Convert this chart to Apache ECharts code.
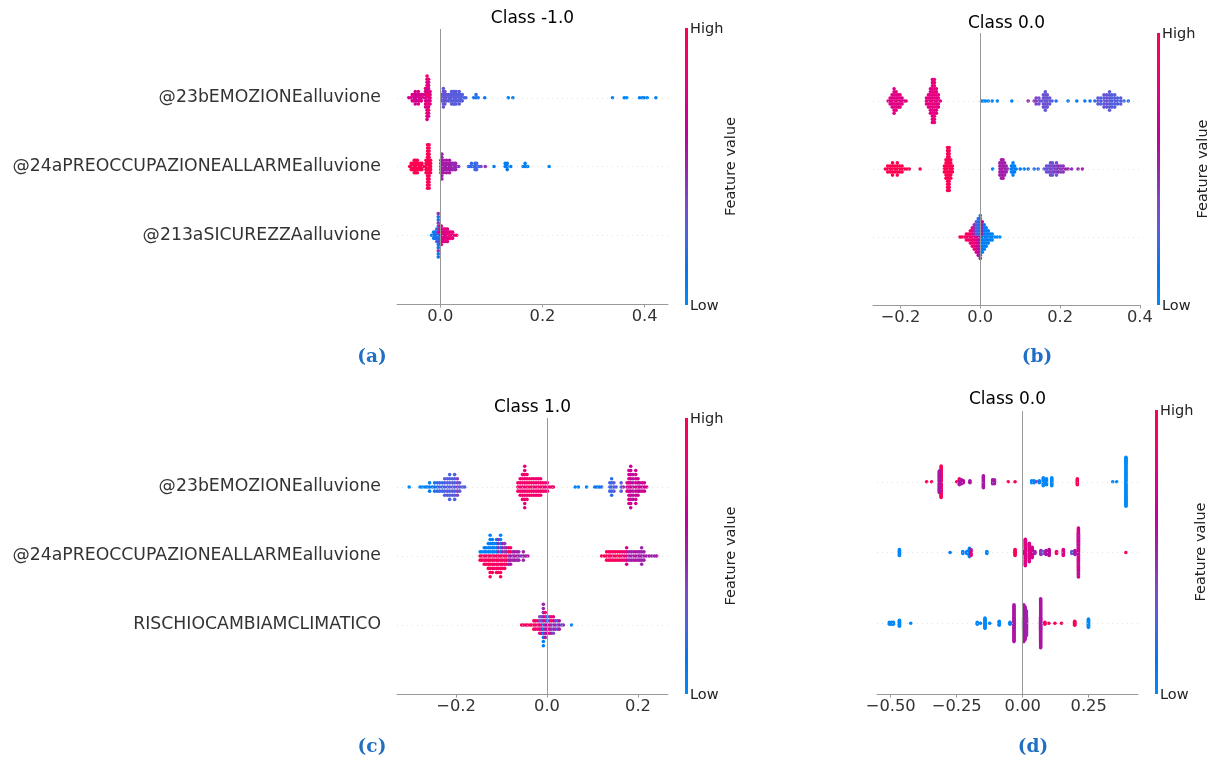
<!DOCTYPE html>
<html><head><meta charset="utf-8">
<script src="https://cdn.jsdelivr.net/npm/echarts@6/dist/echarts.min.js"></script>
<style>html,body{margin:0;padding:0;background:#fff}#c{width:1215px;height:760px}</style>
</head><body><div id="c"></div>
<script>
// ---------- DATA ----------
const featuresA = ['@23bEMOZIONEalluvione', '@24aPREOCCUPAZIONEALLARMEalluvione', '@213aSICUREZZAalluvione'];
const featuresB = ['@23bEMOZIONEalluvione', '@24aPREOCCUPAZIONEALLARMEalluvione', '@213aSICUREZZAalluvione'];
const featuresC = ['@23bEMOZIONEalluvione', '@24aPREOCCUPAZIONEALLARMEalluvione', 'RISCHIOCAMBIAMCLIMATICO'];
const featuresD = ['', '', ''];
const titles = ['Class -1.0', 'Class 0.0', 'Class 1.0', 'Class 0.0'];
const captions = ['(a)', '(b)', '(c)', '(d)'];
const aTicks = [0, 0.2, 0.4];
const bTicks = [-0.2, 0, 0.2, 0.4];
const cTicks = [-0.2, 0, 0.2];
const dTicks = [-0.5, -0.25, 0, 0.25];

// each entry: [shap value, number of samples, feature value (0 low .. 1 high)]
const aRow1 = [[-0.062,1,0.7],[-0.058,1,0.75],[-0.055,3,0.7],[-0.052,3,0.75],[-0.049,5,0.7],[-0.046,3,0.65],[-0.043,5,0.75],[-0.040,3,0.7],[-0.037,3,0.75],[-0.034,2,0.7],
  [-0.029,7,0.72],[-0.026,10,0.75],[-0.026,5,0.88],[-0.023,9,0.72],[-0.023,4,0.88],[-0.020,5,0.78],
  [0.003,3,0.35],[0.006,7,0.3],[0.009,5,0.35],[0.012,3,0.3],[0.016,3,0.28],[0.019,3,0.3],[0.022,5,0.28],[0.025,5,0.3],[0.028,5,0.25],[0.031,5,0.3],[0.034,3,0.28],[0.037,5,0.3],[0.040,3,0.25],[0.043,3,0.28],[0.047,1,0.25],[0.050,1,0.25],
  [0.065,1,0.15],[0.070,2,0.2],[0.074,1,0.15],[0.087,1,0.15],[0.133,1,0.1],[0.142,1,0.1],
  [0.337,1,0.05],[0.360,1,0.05],[0.365,1,0.05],[0.390,1,0.05],[0.395,1,0.05],[0.399,1,0.05],[0.405,1,0.05],[0.422,1,0.05]];
const aRow2 = [[-0.060,1,1],[-0.057,3,1],[-0.054,3,1],[-0.051,5,1],[-0.048,5,1],[-0.045,5,1],[-0.042,3,1],[-0.039,3,1],[-0.036,3,1],[-0.033,1,1],
  [-0.028,5,1],[-0.025,15,1],[-0.022,15,0.97],[-0.019,5,1],
  [0.001,5,0.55],[0.003,9,0.5],[0.006,5,0.55],[0.009,3,0.5],[0.012,5,0.55],[0.015,3,0.5],[0.018,5,0.55],[0.021,3,0.5],[0.024,3,0.5],[0.027,3,0.45],[0.030,3,0.5],[0.033,1,0.45],[0.036,1,0.45],
  [0.055,1,0.2],[0.058,1,0.2],[0.061,2,0.2],[0.064,1,0.25],[0.068,3,0.2],[0.071,3,0.25],[0.075,1,0.2],[0.080,1,0.35],[0.088,1,0.45],
  [0.105,1,0.1],[0.127,2,0.1],[0.131,3,0.1],[0.138,1,0.1],[0.162,1,0.1],[0.166,2,0.05],[0.171,1,0.1],[0.213,1,0.05]];
const aRow3 = [[-0.017,1,0.05],[-0.013,3,0.1],[-0.010,3,0.15],[-0.007,5,0.2],[-0.004,10,0.15],[-0.004,5,0.45],[-0.001,4,0.2],[-0.001,3,0.8],[0.002,7,0.8],[0.005,5,0.75],[0.008,5,0.7],[0.011,5,0.8],[0.014,5,0.75],[0.017,3,0.8],[0.020,3,0.85],[0.024,3,0.75],[0.028,1,0.8],[0.032,1,0.95]];

const bRow1 = [[-0.231,1,0.72],[-0.226,3,0.78],[-0.221,5,0.72],[-0.216,9,0.75],[-0.211,7,0.8],[-0.206,5,0.72],[-0.201,5,0.8],[-0.196,3,0.72],[-0.191,1,0.75],[-0.186,1,0.8],
  [-0.135,3,0.75],[-0.130,5,0.8],[-0.125,9,0.75],[-0.120,10,0.8],[-0.120,5,0.7],[-0.115,10,0.8],[-0.115,5,0.9],[-0.110,9,0.75],[-0.105,5,0.8],[-0.100,1,0.75],
  [0.003,1,0.02],[0.008,1,0.02],[0.013,1,0.02],[0.020,1,0.02],[0.030,1,0.05],[0.043,1,0.05],[0.079,1,0.05],
  [0.120,1,0.5],[0.135,1,0.45],[0.140,3,0.4],[0.147,3,0.35],[0.152,1,0.3],[0.158,5,0.35],[0.163,7,0.3],[0.168,5,0.35],[0.174,3,0.3],[0.180,1,0.25],[0.190,1,0.2],
  [0.220,1,0.1],[0.242,1,0.1],[0.262,1,0.15],[0.275,1,0.15],
  [0.287,1,0.2],[0.295,3,0.3],[0.302,3,0.25],[0.310,5,0.3],[0.317,5,0.35],[0.324,7,0.3],[0.330,5,0.25],[0.337,5,0.3],[0.344,3,0.25],[0.352,3,0.3],[0.360,1,0.2],[0.371,1,0.2]];
const bRow2 = [[-0.238,1,1],[-0.232,3,1],[-0.226,3,1],[-0.220,5,1],[-0.214,3,1],[-0.208,5,1],[-0.202,3,1],[-0.196,3,1],[-0.190,1,1],[-0.184,1,1],[-0.178,1,1],[-0.151,1,1],
  [-0.090,3,1],[-0.086,7,1],[-0.082,15,1],[-0.078,15,0.97],[-0.074,7,1],[-0.070,3,1],
  [0.031,1,0.05],
  [0.049,5,0.55],[0.053,7,0.5],[0.057,7,0.55],[0.061,5,0.5],[0.065,3,0.5],[0.069,1,0.45],
  [0.078,3,0.1],[0.082,5,0.05],[0.086,3,0.1],[0.090,1,0.1],
  [0.100,1,0.1],[0.110,1,0.1],[0.120,1,0.15],[0.135,1,0.2],[0.145,1,0.2],
  [0.160,1,0.3],[0.166,3,0.35],[0.171,3,0.3],[0.176,5,0.4],[0.181,5,0.3],[0.186,3,0.45],[0.191,5,0.35],[0.196,3,0.5],[0.202,3,0.4],[0.208,3,0.45],[0.214,1,0.5],[0.220,1,0.5],[0.229,1,0.45],
  [0.245,1,0.5],[0.256,1,0.5]];
const bRow3 = [[-0.051,1,1],[-0.046,1,1],[-0.040,1,0.95],[-0.035,3,0.9],[-0.030,3,0.95],[-0.025,5,0.85],[-0.020,7,0.8],[-0.015,5,0.85],[-0.015,4,0.5],[-0.010,6,0.75],[-0.010,5,0.3],[-0.005,7,0.6],[-0.005,6,0.2],[0.000,8,0.5],[0.000,7,0.15],[0.005,6,0.1],[0.005,5,0.6],[0.010,9,0.1],[0.015,7,0.05],[0.020,5,0.1],[0.025,3,0.05],[0.030,3,0.05],[0.036,1,0.0],[0.042,1,0.0],[0.049,1,0.0]];

const cRow1 = [[-0.303,1,0.0],
  [-0.279,1,0.0],[-0.274,1,0.0],[-0.268,1,0.05],[-0.263,1,0.05],[-0.258,3,0.1],[-0.252,1,0.1],[-0.247,3,0.15],[-0.241,3,0.2],[-0.236,3,0.25],[-0.230,3,0.2],[-0.225,5,0.25],[-0.219,5,0.3],[-0.214,7,0.25],[-0.208,5,0.3],[-0.203,7,0.25],[-0.197,5,0.4],[-0.192,3,0.3],[-0.186,1,0.25],[-0.181,1,0.25],
  [-0.064,3,0.9],[-0.059,5,0.85],[-0.054,7,0.9],[-0.049,11,0.8],[-0.044,7,0.9],[-0.039,5,0.95],[-0.034,5,0.85],[-0.029,5,0.9],[-0.024,5,0.8],[-0.019,5,0.9],[-0.014,5,0.85],[-0.009,3,0.95],[-0.004,3,0.85],[0.001,3,0.8],[0.006,1,0.9],[0.011,1,0.85],[0.014,1,0.9],
  [0.062,1,0.05],[0.069,1,0.05],[0.087,1,0.1],[0.105,1,0.1],[0.110,1,0.15],[0.115,1,0.1],[0.120,1,0.2],
  [0.138,3,0.25],[0.142,5,0.2],[0.147,3,0.3],[0.152,1,0.25],[0.163,3,0.3],[0.168,1,0.45],
  [0.176,3,0.7],[0.180,9,0.72],[0.184,11,0.65],[0.189,7,0.55],[0.195,9,0.72],[0.200,5,0.65],[0.204,3,0.6],[0.209,3,0.72],[0.214,3,0.65],[0.219,1,0.7]];
const cRow2 = [[-0.147,2,1],[-0.147,1,0.05],[-0.143,2,0.9],[-0.143,1,0.05],[-0.138,3,1],[-0.138,2,0.05],[-0.134,3,0.85],[-0.134,2,0.1],
  [-0.129,4,1],[-0.129,3,0.05],[-0.125,6,0.95],[-0.125,5,0.05],[-0.120,5,1],[-0.120,4,0.1],[-0.116,4,0.85],[-0.116,3,0.05],
  [-0.111,5,1],[-0.111,4,0.05],[-0.107,5,0.9],[-0.107,4,0.5],[-0.102,6,1],[-0.102,5,0.05],[-0.098,4,0.85],[-0.098,3,0.5],
  [-0.093,4,1],[-0.093,3,0.45],[-0.089,3,0.9],[-0.089,2,0.5],[-0.084,3,0.5],[-0.084,2,1],[-0.080,3,0.55],[-0.080,2,0.9],
  [-0.075,3,0.5],[-0.071,3,0.55],[-0.066,3,0.5],[-0.062,3,0.5],[-0.057,1,0.45],[-0.052,3,0.5],[-0.047,1,0.5],[-0.042,1,0.55],
  [0.120,1,1],[0.126,1,0.9],[0.131,3,1],[0.136,3,0.9],[0.140,3,1],[0.145,3,0.85],[0.150,3,1],[0.155,3,0.9],[0.160,3,1],[0.165,3,0.8],[0.170,3,0.9],[0.175,5,0.7],
  [0.180,3,0.5],[0.185,3,0.55],[0.190,3,0.5],[0.195,3,0.6],[0.200,3,0.5],[0.204,3,0.55],[0.208,5,0.5],[0.213,3,0.55],[0.218,1,0.5],[0.224,1,0.55],[0.230,1,0.5],[0.236,1,0.5],[0.241,1,0.55]];
const cRow3 = [[-0.056,1,1],[-0.052,1,0.9],[-0.047,1,1],[-0.043,1,0.85],[-0.038,1,1],[-0.034,1,0.9],[-0.029,3,1],[-0.025,3,0.85],[-0.020,3,0.9],[-0.016,3,0.75],[-0.016,2,0.4],[-0.012,3,0.8],[-0.012,2,0.3],
  [-0.008,6,0.1],[-0.008,5,0.5],[-0.004,4,0.55],[-0.004,3,0.85],[0.000,3,0.6],[0.000,2,0.2],[0.005,3,0.8],[0.005,2,0.3],[0.009,3,0.5],[0.009,2,0.9],[0.014,3,0.4],[0.014,2,0.8],
  [0.018,3,0.5],[0.023,3,0.3],[0.027,3,0.55],[0.032,1,0.3],[0.036,1,0.45],[0.054,1,0.0]];

const dRow1 = [[-0.364,1,1],[-0.345,1,0.95],
  [-0.309,33,0.97],[-0.316,23,0.55],
  [-0.250,1,0.95],[-0.240,5,0.55],[-0.240,2,0.95],[-0.232,5,0.55],[-0.225,3,0.6],[-0.200,3,0.55],
  [-0.149,13,0.55],[-0.114,5,0.55],[-0.107,5,0.5],
  [-0.055,1,0.95],[-0.029,1,0.95],
  [0.034,3,0.02],[0.043,3,0.05],[0.053,1,0.4],[0.063,3,0.05],[0.078,9,0.02],[0.090,7,0.05],[0.110,9,0.02],
  [0.207,7,0.97],[0.341,1,0.02],[0.356,1,0.02],[0.391,51,0.0]];
const dRow2 = [[-0.467,7,0.02],[-0.275,1,0.05],
  [-0.227,3,0.05],[-0.212,3,0.05],[-0.202,9,0.05],[-0.196,5,0.8],[-0.196,2,0.5],[-0.136,3,0.05],
  [-0.029,7,0.95],
  [0.004,3,0.5],[0.010,27,0.75],[0.025,19,0.75],[0.036,11,0.7],
  [0.046,3,0.5],[0.069,5,0.5],[0.075,3,0.3],[0.088,5,0.55],[0.100,7,0.6],
  [0.128,3,0.9],[0.154,7,0.75],[0.186,3,0.3],[0.198,5,0.55],
  [0.211,40,0.72],[0.211,9,0.45],[0.391,1,0.95]];
const dRow3 = [[-0.505,3,0.02],[-0.497,3,0.02],[-0.490,3,0.02],[-0.467,7,0.02],[-0.424,1,0.02],
  [-0.172,3,0.02],[-0.160,1,0.05],[-0.143,11,0.02],[-0.125,1,0.05],[-0.089,5,0.02],
  [-0.048,3,0.05],[-0.033,37,0.55],
  [0.004,36,0.55],[0.004,1,1],[0.009,33,0.55],[0.014,25,0.5],
  [0.068,49,0.55],
  [0.084,3,0.95],[0.099,1,0.95],[0.122,1,0.95],[0.147,1,0.95],[0.197,5,0.97],
  [0.249,9,0.02]];

// SHAP red_blue colour map
const cmap = ['#008bfb','#0078f3','#4b63e3','#7d49cb','#9b24ad','#c2009c','#e00086','#f5006c','#ff0051'];

// ---------- LAYOUT ----------
const FONT = 'DejaVu Sans';
const panels = [
  {rows:[aRow1,aRow2,aRow3], feats:featuresA, ticks:aTicks, dec:1, showY:true,
   grid:{left:397, top:29, width:271, height:275}, min:-0.0848, max:0.4457,
   bar:{x:685, top:28, bottom:305}, fvx:731, cap:[372,357], title:[532.5,19]},
  {rows:[bRow1,bRow2,bRow3], feats:featuresB, ticks:bTicks, dec:1, showY:false,
   grid:{left:873, top:33, width:267, height:272}, min:-0.2689, max:0.4003,
   bar:{x:1157, top:33, bottom:305}, fvx:1203, cap:[1037,357], title:[1006.5,24]},
  {rows:[cRow1,cRow2,cRow3], feats:featuresC, ticks:cTicks, dec:1, showY:true,
   grid:{left:397, top:418, width:271, height:276}, min:-0.3297, max:0.2659,
   bar:{x:685, top:418, bottom:694}, fvx:731, cap:[372,747], title:[532.5,408]},
  {rows:[dRow1,dRow2,dRow3], feats:featuresD, ticks:dTicks, dec:2, showY:false,
   grid:{left:877, top:411, width:261, height:283}, min:-0.552, max:0.4367,
   bar:{x:1155, top:410, bottom:694}, fvx:1201, cap:[1033,747], title:[1007.5,400]}
];

// beeswarm stacking like shap.summary_plot (row_height 0.4)
function swarm(row, pos) {
  const stacks = new Map();
  row.forEach(([x, n, fv]) => {
    if (!stacks.has(x)) stacks.set(x, []);
    for (let j = 0; j < n; j++) stacks.get(x).push({fv: fv, key: (j + 0.5) / n});
  });
  let maxL = 0;
  const pts = [];
  stacks.forEach((arr, x) => {
    arr.sort((p, q) => p.key - q.key);
    arr.forEach((p, layer) => {
      const off = Math.ceil(layer / 2) * ((layer % 2) * 2 - 1);
      if (off > maxL) maxL = off;
      pts.push([x, off, p.fv]);
    });
  });
  const s = 0.9 * 0.4 / (maxL + 1);
  return pts.map(([x, off, fv]) => [x, pos + off * s, fv]);
}

function fmt(v, dec) {
  const t = Math.abs(v).toFixed(dec);
  return (v < -1e-9 ? '\u2212' : '') + t;
}

const grids = [], xAxes = [], yAxes = [], series = [], graphics = [];
panels.forEach((p, i) => {
  grids.push(Object.assign({containLabel:false}, p.grid));
  xAxes.push({
    type:'value', gridIndex:i, min:p.min, max:p.max, position:'bottom',
    axisLine:{show:true, onZero:false, lineStyle:{color:'#999', width:1}},
    axisTick:{show:true, length:3.5, lineStyle:{color:'#999', width:1}, customValues:p.ticks},
    axisLabel:{customValues:p.ticks, formatter:(v)=>fmt(v, p.dec), fontSize:16.3, color:'#333', margin:5, fontFamily:FONT},
    splitLine:{show:false}
  });
  yAxes.push({
    type:'value', gridIndex:i, min:-1, max:3, interval:1,
    axisLine:{show:false, onZero:false}, axisTick:{show:false}, splitLine:{show:false},
    axisLabel:{show:p.showY, margin:16, fontSize:17.3, color:'#333', fontFamily:FONT,
      formatter:(v)=> (v>=0 && v<=2) ? p.feats[2 - v] : ''}
  });
});
// reference lines (behind points)
panels.forEach((p, i) => {
  const dot = {color:'#cccccc', width:0.6, type:[1,4]};
  series.push({
    type:'scatter', xAxisIndex:i, yAxisIndex:i, data:[], z:1, silent:true,
    markLine:{symbol:['none','none'], silent:true, animation:false, label:{show:false},
      data:[
        {yAxis:0, lineStyle:dot}, {yAxis:1, lineStyle:dot}, {yAxis:2, lineStyle:dot},
        {xAxis:0, lineStyle:{color:'#999999', width:1, type:'solid'}}
      ]}
  });
});
panels.forEach((p, i) => {
  let data = [];
  p.rows.forEach((r, k) => { data = data.concat(swarm(r, 2 - k)); });
  series.push({
    type:'scatter', xAxisIndex:i, yAxisIndex:i, data:data, z:3,
    symbol:'circle', symbolSize:3.6, itemStyle:{opacity:1}, silent:true, animation:false
  });
});

panels.forEach((p, i) => {
  const b = p.bar;
  graphics.push({type:'rect', shape:{x:b.x, y:b.top, width:3, height:b.bottom - b.top},
    style:{fill:new echarts.graphic.LinearGradient(0,0,0,1, cmap.slice().reverse().map((c,k)=>({offset:k/(cmap.length-1), color:c})))}});
  graphics.push({type:'text', x:b.x + 5, y:b.top + 1, style:{text:'High', fontSize:14.5, fontFamily:FONT, fill:'#222', align:'left', verticalAlign:'middle'}});
  graphics.push({type:'text', x:b.x + 5, y:b.bottom + 1, style:{text:'Low', fontSize:14.5, fontFamily:FONT, fill:'#222', align:'left', verticalAlign:'middle'}});
  graphics.push({type:'text', x:p.fvx, y:(b.top + b.bottom) / 2, rotation:Math.PI/2,
    style:{text:'Feature value', fontSize:14.5, fontFamily:FONT, fill:'#222', align:'center', verticalAlign:'middle'}});
  graphics.push({type:'text', x:p.title[0], y:p.title[1], style:{text:titles[i], fontSize:17, fontFamily:FONT, fill:'#000', align:'center', verticalAlign:'middle'}});
  graphics.push({type:'text', x:p.cap[0], y:p.cap[1], style:{text:captions[i], fontSize:18.5, fontFamily:'DejaVu Serif', fontWeight:'bold', fill:'#1f6fc5', align:'center', verticalAlign:'middle'}});
});

const chart = echarts.init(document.getElementById('c'), null, {renderer:'canvas'});
chart.setOption({
  animation:false,
  backgroundColor:'#ffffff',
  textStyle:{fontFamily:FONT},
  grid:grids, xAxis:xAxes, yAxis:yAxes,
  visualMap:{type:'continuous', show:false, min:0, max:1, dimension:2, seriesIndex:[4,5,6,7], inRange:{color:cmap}},
  series:series,
  graphic:graphics
});
</script>
</body></html>
